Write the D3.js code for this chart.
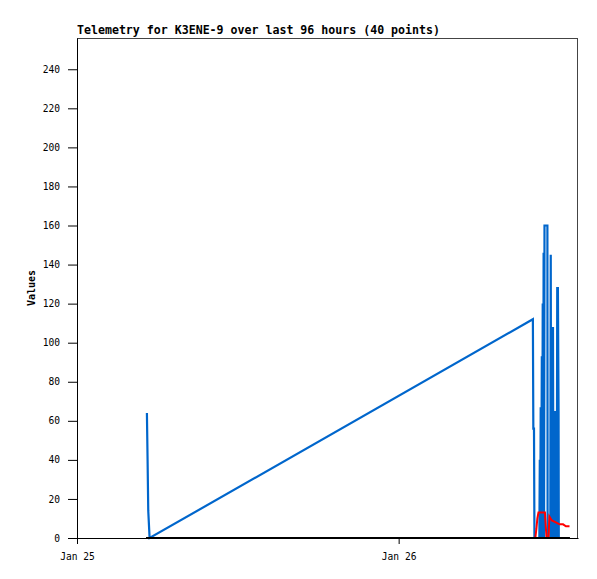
<!DOCTYPE html>
<html><head><meta charset="utf-8">
<script src="https://cdn.jsdelivr.net/npm/d3@7"></script>
<style>body{margin:0;background:#fff}</style>
</head><body>
<script>
const title = "Telemetry for K3ENE-9 over last 96 hours (40 points)";
const yLabel = "Values";
const xDomain = ["2024-01-25T00:00", "2024-01-26T13:23"];
const yDomain = [0, 256];
const yTicks = [0,20,40,60,80,100,120,140,160,180,200,220,240];
const xTicks = ["2024-01-25T00:00", "2024-01-26T00:00"];

const blueTimes = ["2024-01-25T05:13","2024-01-25T05:16","2024-01-25T05:19","2024-01-25T05:25",
  "2024-01-26T10:01","2024-01-26T10:03","2024-01-26T10:06","2024-01-26T10:08","2024-01-26T10:30",
  "2024-01-26T10:32","2024-01-26T10:34","2024-01-26T10:36","2024-01-26T10:38","2024-01-26T10:41",
  "2024-01-26T10:43","2024-01-26T10:45","2024-01-26T10:47","2024-01-26T10:49","2024-01-26T10:51",
  "2024-01-26T10:53","2024-01-26T11:06","2024-01-26T11:07","2024-01-26T11:19","2024-01-26T11:21",
  "2024-01-26T11:23","2024-01-26T11:29","2024-01-26T11:31","2024-01-26T11:33","2024-01-26T11:38",
  "2024-01-26T11:40","2024-01-26T11:42","2024-01-26T11:48","2024-01-26T11:50","2024-01-26T11:53",
  "2024-01-26T11:56","2024-01-26T11:57"];
const blueValues = [64,40,14,0, 112,56,56,0,0,
  40,0,67,0,93, 0,120,0,146,0, 160,160,0,0,145, 0,0,108,0,0, 65,0,0,128,128, 65,0];

const redTimes = ["2024-01-26T10:12","2024-01-26T10:17","2024-01-26T10:21","2024-01-26T10:26",
  "2024-01-26T10:55","2024-01-26T11:02","2024-01-26T11:11","2024-01-26T11:15","2024-01-26T11:26",
  "2024-01-26T11:44","2024-01-26T12:00","2024-01-26T12:16","2024-01-26T12:29","2024-01-26T12:45"];
const redValues = [0,5,10,13, 13,0,0,11,9, 8,7,7,6,6];

const blackTimes = ["2024-01-25T05:09","2024-01-26T12:47"];
const blackValues = [0,0];

const W = 597, H = 579;
const m = {l:77, t:38, r:19, b:41};
const parse = d3.utcParse("%Y-%m-%dT%H:%M");
const svg = d3.select("body").append("svg").attr("width",W).attr("height",H);
const x = d3.scaleUtc().domain(xDomain.map(parse)).range([m.l, W-m.r]);
const y = d3.scaleLinear().domain(yDomain).range([H-m.b, m.t]);
const mono = "'DejaVu Sans Mono', monospace";

svg.append("clipPath").attr("id","c").append("rect")
  .attr("x",m.l).attr("y",m.t).attr("width",W-m.r-m.l).attr("height",H-m.b-m.t+3);

const line = d3.line().x(d=>x(d[0])).y(d=>y(d[1]));
function series(times, vals, color, w){
  const data = times.map((t,i)=>[parse(t), vals[i]]);
  svg.append("path").datum(data).attr("d",line).attr("fill","none")
    .attr("stroke",color).attr("stroke-width",w).attr("clip-path","url(#c)");
}

// frame
svg.append("rect").attr("x",m.l+0.5).attr("y",m.t+0.5)
  .attr("width",W-m.r-m.l-1).attr("height",H-m.b-m.t)
  .attr("fill","none").attr("stroke","#444").attr("stroke-width",1);

series(blueTimes, blueValues, "#0066cc", 2.2);
series(redTimes, redValues, "#ff0000", 2);
series(blackTimes, blackValues, "#000000", 2);

// y axis
const ya = svg.append("g").attr("transform",`translate(${m.l},0)`)
  .call(d3.axisLeft(y).tickValues(yTicks).tickSize(9).tickSizeOuter(0).tickPadding(8));
ya.select(".domain").attr("stroke","#000");
ya.selectAll("text").attr("font-family",mono).attr("font-size","9.6px").attr("fill","#000");

// x axis
const xa = svg.append("g").attr("transform",`translate(0,${H-m.b})`)
  .call(d3.axisBottom(x).tickValues(xTicks.map(parse)).tickFormat(d3.utcFormat("%b %d")).tickSize(6).tickSizeOuter(0).tickPadding(9));
xa.select(".domain").attr("stroke","#000");
xa.selectAll("text").attr("font-family",mono).attr("font-size","9.6px").attr("fill","#000");

svg.append("text").attr("x",77).attr("y",34).attr("font-family",mono)
  .attr("font-weight","bold").attr("font-size","11.6px").text(title);

svg.append("text").attr("transform","translate(35,288) rotate(-90)")
  .attr("text-anchor","middle").attr("font-family",mono).attr("font-weight","bold")
  .attr("font-size","10px").text(yLabel);
</script>
</body></html>
